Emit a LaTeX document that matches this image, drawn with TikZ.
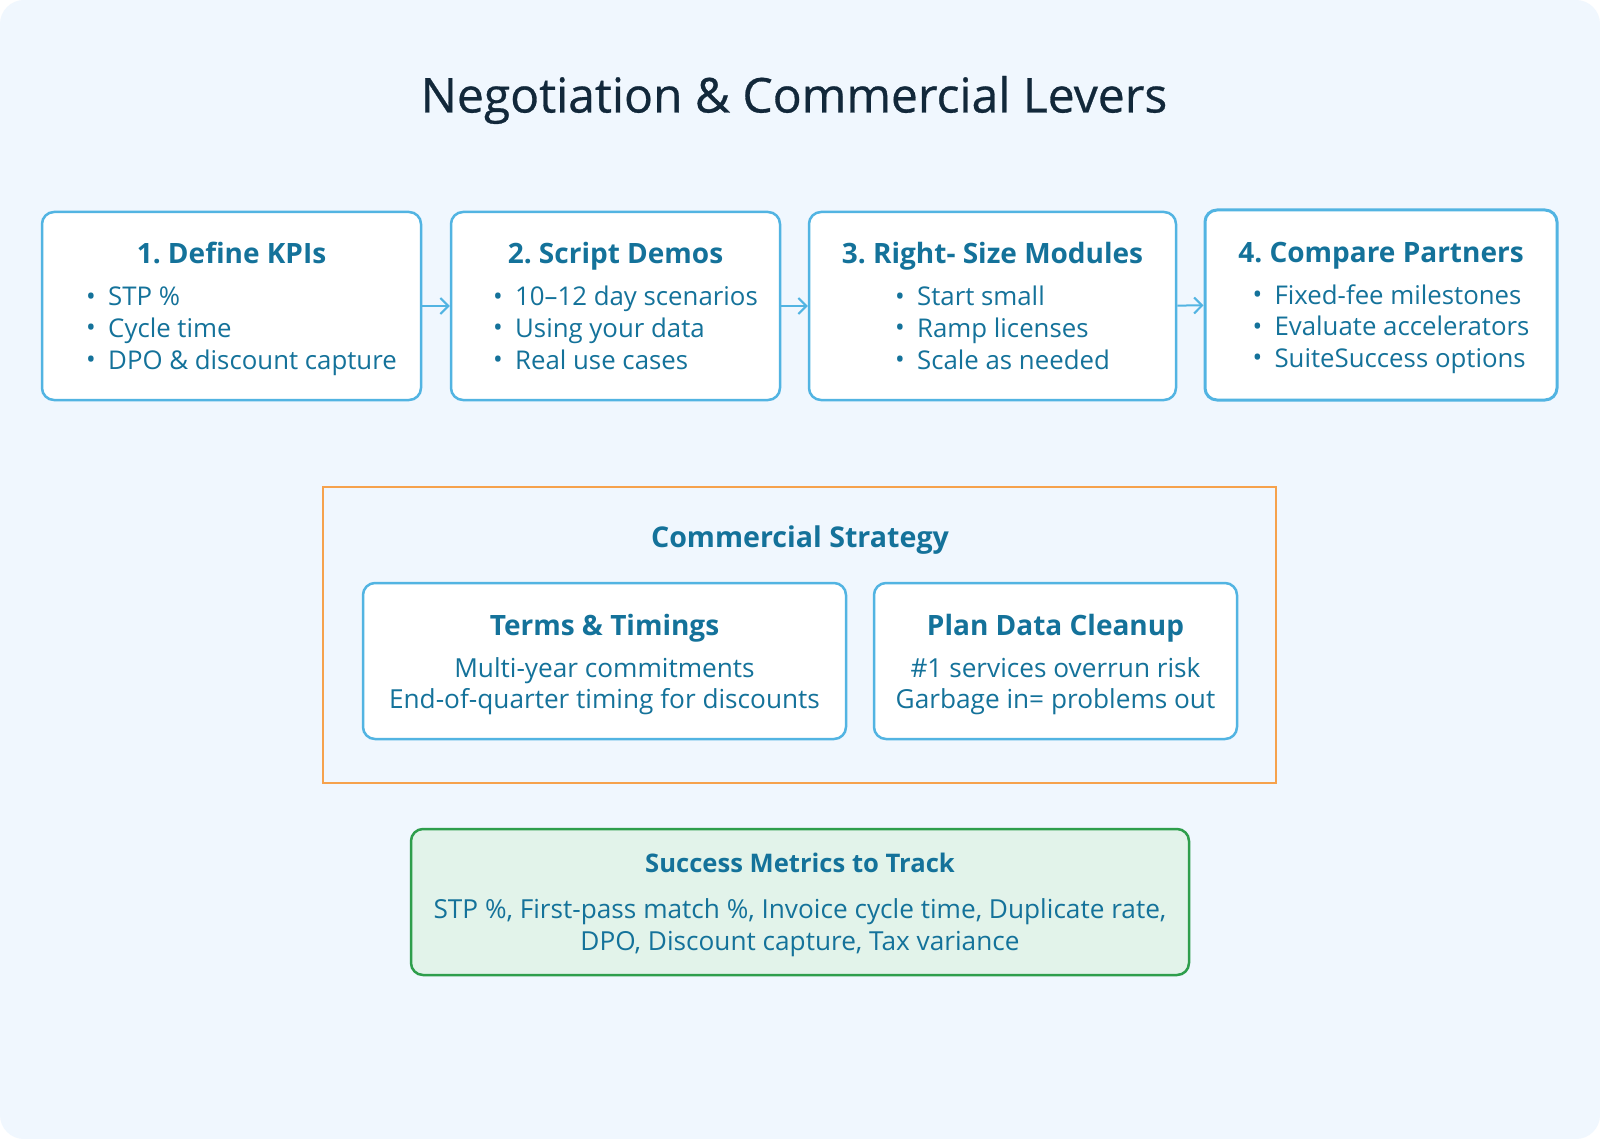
\documentclass[tikz,border=0pt]{standalone}
\usepackage{fontspec}
\setmainfont{Open Sans}
\newfontfamily\headfont[FakeBold=0.6]{Open Sans}
\usetikzlibrary{arrows.meta,positioning}

\definecolor{pagebg}{HTML}{F0F7FE}
\definecolor{inkdark}{HTML}{12283A}
\definecolor{inkteal}{HTML}{14729A}
\definecolor{edgeblue}{HTML}{52B4E2}
\definecolor{edgeorange}{HTML}{F6A24C}
\definecolor{edgegreen}{HTML}{2E9E4C}
\definecolor{fillgreen}{HTML}{E2F3EA}

\tikzset{
  stepbox/.style={draw=edgeblue, line width=1.25pt, fill=white, rounded corners=6pt,
    inner sep=0pt, minimum height=94pt},
  subbox/.style={stepbox, minimum height=78pt},
  steptext/.style={text=inkteal, align=center, inner sep=0pt, font=\fontsize{12.9}{15.8}\selectfont},
  subtext/.style={steptext, font=\fontsize{13.1}{15.8}\selectfont},
  flowarrow/.style={draw=edgeblue, line width=1pt, -{Straight Barb[length=4pt,width=8pt]}},
}

\newcommand{\steptitle}[1]{{\fontsize{14}{15.8}\selectfont\bfseries #1}\\[5.2pt]}
\newcommand{\bul}{\makebox[11pt][l]{\raisebox{0.3pt}{•}}}

\begin{document}
\begin{tikzpicture}[x=0.5pt,y=-0.5pt]
  % page
  \fill[white] (0,0) rectangle (1600,1139);
  \fill[pagebg, rounded corners=12pt] (0,0) rectangle (1600,1139);
  \useasboundingbox (0,0) rectangle (1600,1139);

  \node[text=inkdark, font=\headfont\fontsize{24}{28}\selectfont] (title) at (794,100) {Negotiation \& Commercial Levers};

  % the four steps
  \node[stepbox, minimum width=189.5pt] (kpis) at (231.5,306) {};
  \node[stepbox, minimum width=164.5pt] (demos) at (615.5,306) {};
  \node[stepbox, minimum width=183.5pt] (modules) at (992.5,306) {};
  \node[stepbox, line width=1.5pt, minimum width=176pt, minimum height=95pt] (partners) at (1381,305) {};

  \node[steptext, yshift=-2.3pt] (kpistext) at (kpis) {\steptitle{1.\ Define KPIs}
    \hspace*{10pt}\begin{tabular}[t]{@{}l@{}}\bul STP \%\\ \bul Cycle time\\ \bul DPO \& discount capture\end{tabular}};
  \node[steptext, yshift=-2.3pt] (demostext) at (demos) {\steptitle{2.\ Script Demos}
    \hspace*{10pt}\begin{tabular}[t]{@{}l@{}}\bul 10--12 day scenarios\\ \bul Using your data\\ \bul Real use cases\end{tabular}};
  \node[steptext, yshift=-2.3pt] (modulestext) at (modules) {\steptitle{3.\ Right- Size Modules}
    \hspace*{10pt}\begin{tabular}[t]{@{}l@{}}\bul Start small\\ \bul Ramp licenses\\ \bul Scale as needed\end{tabular}};
  \node[steptext, yshift=-2.3pt] (partnerstext) at (partners) {\steptitle{4.\ Compare Partners}
    \hspace*{10pt}\begin{tabular}[t]{@{}l@{}}\bul Fixed-fee milestones\\ \bul Evaluate accelerators\\ \bul SuiteSuccess options\end{tabular}};

  \draw[flowarrow] (kpis) -- (demos);
  \draw[flowarrow] (demos) -- (modules);
  \draw[flowarrow] (modules) -- (partners);

  % commercial strategy
  \draw[edgeorange, line width=0.75pt] (323,487) rectangle (1276,783);
  \node[text=inkteal, font=\fontsize{14.3}{16}\selectfont\bfseries] (strategy) at (800,540) {Commercial Strategy};

  \node[subbox, minimum width=241.5pt] (terms) at (604.5,661) {};
  \node[subbox, minimum width=181.5pt] (cleanup) at (1055.5,661) {};
  \node[subtext, yshift=-1.8pt] (termstext) at (terms) {\steptitle{Terms \& Timings}
    Multi-year commitments\\ End-of-quarter timing for discounts};
  \node[subtext, yshift=-1.8pt] (cleanuptext) at (cleanup) {\steptitle{Plan Data Cleanup}
    \#1 services overrun risk\\ Garbage in= problems out};

  % metrics
  \node[draw=edgegreen, line width=1.25pt, fill=fillgreen, rounded corners=6pt,
    minimum width=389pt, minimum height=73pt] (metrics) at (800,902) {};
  \node[steptext, font=\fontsize{13.1}{15.8}\selectfont, yshift=-1.5pt] (metricstext) at (metrics)
    {{\fontsize{12.8}{15}\selectfont\bfseries Success Metrics to Track}\\[7pt]
     STP \%, First-pass match \%, Invoice cycle time, Duplicate rate,\\ DPO, Discount capture, Tax variance};
\end{tikzpicture}
\end{document}
